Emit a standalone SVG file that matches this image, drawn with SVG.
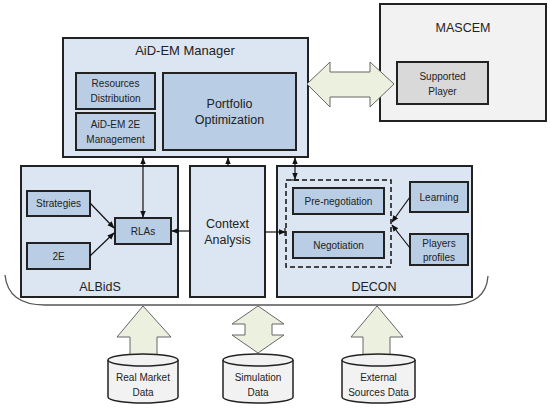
<svg xmlns="http://www.w3.org/2000/svg" width="550" height="413" viewBox="0 0 550 413">
<style>
text{font-family:"Liberation Sans",Arial,sans-serif;fill:#222;text-anchor:middle}
.outer{fill:#dce6f2;stroke:#222;stroke-width:2}
.inner{fill:#b9cde5;stroke:#222;stroke-width:2}
.big{font-size:12.5px}
.sm{font-size:10px}
.ln{stroke:#111;stroke-width:1.2;fill:none}
.fat{fill:#ebf1de;stroke:#666;stroke-width:1}
.cyl{fill:#f2f2f2;stroke:#222;stroke-width:1.5}
</style>
<defs>
<marker id="ah" viewBox="0 0 10 10" refX="9" refY="5" markerWidth="6" markerHeight="6" orient="auto-start-reverse"><path d="M0,1 L10,5 L0,9 z" fill="#111"/></marker>
</defs>
<rect width="550" height="413" fill="#fff"/>

<g id="brace"><path d="M5,275 Q8,305 45,305 L450,305 Q486,305 488,276" fill="none" stroke="#555" stroke-width="1.3"/></g>

<g id="mascem">
<rect x="380" y="4" width="166" height="117" fill="#f2f2f2" stroke="#222" stroke-width="2"/>
<text x="463" y="32" class="big" font-size="13">MASCEM</text>
<g id="supported-player">
<rect x="397" y="62" width="91" height="42" fill="#d9d9d9" stroke="#222" stroke-width="2"/>
<text x="442.5" y="80" class="sm">Supported</text>
<text x="442.5" y="95" class="sm">Player</text>
</g>
</g>

<g id="manager">
<rect x="63" y="38" width="245" height="119" class="outer"/>
<text x="185" y="55" font-size="13">AiD-EM Manager</text>
<g id="resources"><rect x="76" y="73" width="79" height="36" class="inner"/>
<text x="115.5" y="87" class="sm">Resources</text><text x="115.5" y="102" class="sm">Distribution</text></g>
<g id="mgmt2e"><rect x="76" y="113" width="79" height="37" class="inner"/>
<text x="115.5" y="128" class="sm">AiD-EM 2E</text><text x="115.5" y="143" class="sm">Management</text></g>
<g id="portfolio"><rect x="163" y="73" width="133" height="77" class="inner"/>
<text x="229.5" y="108" class="big">Portfolio</text><text x="229.5" y="124" class="big">Optimization</text></g>
</g>

<g id="albids">
<rect x="21" y="166" width="157" height="131" class="outer"/>
<text x="100" y="291" class="big">ALBidS</text>
<g id="strategies"><rect x="27" y="191" width="63" height="25" class="inner"/><text x="58.5" y="207" class="sm">Strategies</text></g>
<g id="e2"><rect x="27" y="243" width="63" height="26" class="inner"/><text x="58.5" y="260" class="sm">2E</text></g>
<g id="rlas"><rect x="115" y="218" width="56" height="26" class="inner"/><text x="143" y="235" class="sm">RLAs</text></g>
</g>

<g id="context">
<rect x="190" y="166" width="75" height="131" class="outer"/>
<text x="227.5" y="228" class="big">Context</text>
<text x="227.5" y="244" class="big">Analysis</text>
</g>

<g id="decon">
<rect x="277" y="166" width="195" height="131" class="outer"/>
<text x="374" y="291" class="big">DECON</text>
<rect x="286" y="180" width="105" height="87" fill="none" stroke="#111" stroke-width="1.5" stroke-dasharray="5,3"/>
<g id="prenegotiation"><rect x="293" y="188" width="91" height="26" class="inner"/><text x="338.5" y="205" class="sm">Pre-negotiation</text></g>
<g id="negotiation"><rect x="293" y="232" width="91" height="26" class="inner"/><text x="338.5" y="249" class="sm">Negotiation</text></g>
<g id="learning"><rect x="410" y="182" width="58" height="30" class="inner"/><text x="439" y="201" class="sm">Learning</text></g>
<g id="players"><rect x="410" y="234" width="58" height="31" class="inner"/><text x="439" y="247" class="sm">Players</text><text x="439" y="261" class="sm">profiles</text></g>
</g>

<g id="connectors">
<line x1="143" y1="158" x2="143" y2="217" class="ln" marker-start="url(#ah)" marker-end="url(#ah)"/>
<line x1="228" y1="166" x2="228" y2="158" class="ln" marker-end="url(#ah)"/>
<line x1="295" y1="158" x2="295" y2="179" class="ln" marker-start="url(#ah)" marker-end="url(#ah)"/>
<line x1="291" y1="180" x2="299" y2="180" class="ln"/>
<line x1="190" y1="231" x2="172" y2="231" class="ln" marker-end="url(#ah)"/>
<line x1="265" y1="232" x2="285" y2="232" class="ln" marker-end="url(#ah)"/>
<line x1="285" y1="228" x2="285" y2="236" class="ln"/>
<line x1="90" y1="203" x2="114" y2="228" class="ln" marker-end="url(#ah)"/>
<line x1="90" y1="256" x2="114" y2="233" class="ln" marker-end="url(#ah)"/>
<line x1="410" y1="197" x2="392" y2="222" class="ln" marker-end="url(#ah)"/>
<line x1="410" y1="248" x2="392" y2="225" class="ln" marker-end="url(#ah)"/>
<path class="fat" d="M307,84 L330,62 L330,72 L370,72 L370,62 L394,84 L370,107 L370,97 L330,97 L330,107 Z"/>
<path class="fat" d="M143,306 L171,337 L157,337 L157,356 L130,356 L130,337 L117,337 Z"/>
<path class="fat" d="M258,306 L284,324 L272,324 L272,335 L284,335 L258,353 L232,335 L245,335 L245,324 L232,324 Z"/>
<path class="fat" d="M377,306 L403,337 L390,337 L390,356 L363,356 L363,337 L351,337 Z"/>
</g>

<g id="realmarket">
<path class="cyl" d="M108,360 L108,397 A35,6 0 0 0 178,397 L178,360"/>
<ellipse cx="143" cy="360" rx="35" ry="6" class="cyl"/>
<text x="143" y="381" class="sm">Real Market</text><text x="143" y="396" class="sm">Data</text>
</g>
<g id="simulation">
<path class="cyl" d="M223,360 L223,397 A35,6 0 0 0 293,397 L293,360"/>
<ellipse cx="258" cy="360" rx="35" ry="6" class="cyl"/>
<text x="258" y="381" class="sm">Simulation</text><text x="258" y="396" class="sm">Data</text>
</g>
<g id="external">
<path class="cyl" d="M342,360 L342,397 A36.5,6 0 0 0 415,397 L415,360"/>
<ellipse cx="378.5" cy="360" rx="36.5" ry="6" class="cyl"/>
<text x="378.5" y="381" class="sm">External</text><text x="378.5" y="396" class="sm">Sources Data</text>
</g>
</svg>
